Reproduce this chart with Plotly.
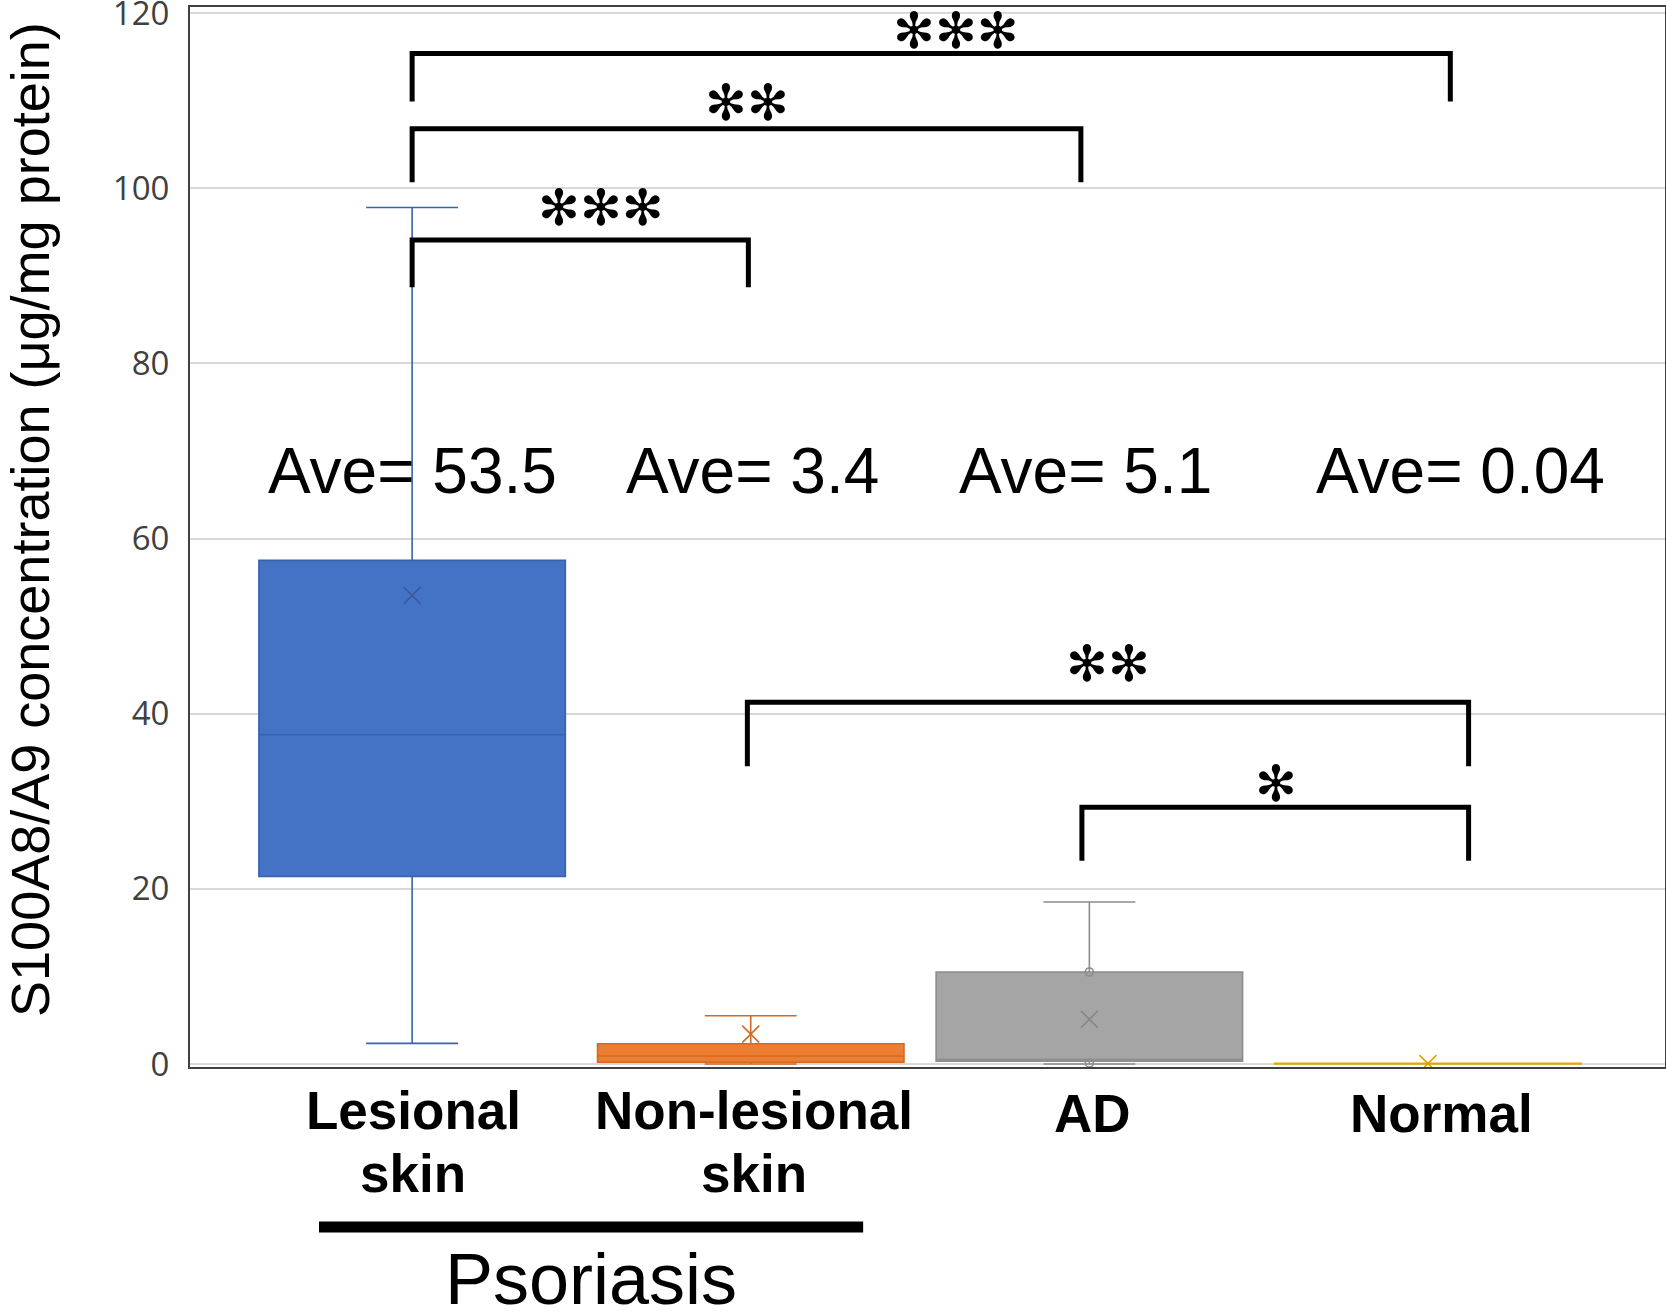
import plotly.graph_objects as go

# ---------------- data ----------------
categories = ["Lesional<br>skin", "Non-lesional<br>skin", "AD", "Normal"]
positions = [0, 1, 2, 3]
q1 = [21.4, 0.2, 0.3, 0.0]
median = [37.6, 0.9, 0.5, 0.03]
q3 = [57.5, 2.3, 10.5, 0.06]
lowerfence = [2.35, 0.0, 0.0, 0.0]
upperfence = [97.8, 5.5, 18.5, 0.08]
means = [53.5, 3.4, 5.1, 0.04]
ave_labels = ["Ave= 53.5", "Ave= 3.4", "Ave= 5.1", "Ave= 0.04"]
ave_x = [0.0, 1.005, 1.99, 3.096]
ad_points = [10.5, 0.1]

fill_colors = ["#4472C4", "#ED7D31", "#A5A5A5", "#FFC000"]
line_colors = ["#3A62AC", "#D46A22", "#8C8C8C", "#E0A800"]
mean_colors = ["#3A5A9A", "#D46A22", "#858585", "#D9A300"]

# significance brackets
br_left = [0, 0, 0, 0.99, 1.978]
br_right = [3.066, 1.975, 0.993, 3.12, 3.12]
br_top = [115.4, 106.8, 94.1, 41.3, 29.3]
br_bottom = [109.9, 100.7, 88.7, 34.0, 23.2]
br_labels = ["✻✻✻", "✻✻", "✻✻✻", "✻✻", "✻"]
br_label_x = [1.607, 0.99, 0.558, 2.056, 2.55]
br_label_y = [118.0, 109.7, 97.8, 45.7, 32.0]

y_ticks = [0, 20, 40, 60, 80, 100, 120]
label_x = [0.003, 1.01, 2.01, 3.04]

fig = go.Figure()

for i in range(4):
    fig.add_trace(go.Box(
        x=[positions[i]], q1=[q1[i]], median=[median[i]], q3=[q3[i]],
        lowerfence=[lowerfence[i]], upperfence=[upperfence[i]],
        width=0.905, whiskerwidth=0.3,
        fillcolor=fill_colors[i],
        line=dict(color=line_colors[i], width=1.6),
        boxpoints=False, showlegend=False, hoverinfo="skip",
    ))

# mean markers
fig.add_trace(go.Scatter(
    x=positions, y=means, mode="markers", showlegend=False, hoverinfo="skip",
    marker=dict(symbol="x-thin-open", size=17, color=mean_colors,
                line=dict(color=mean_colors, width=1.6)),
))
# AD inner points
fig.add_trace(go.Scatter(
    x=[positions[2]] * len(ad_points), y=ad_points, mode="markers", showlegend=False,
    hoverinfo="skip",
    marker=dict(symbol="circle-open", size=8, color="#8C8C8C",
                line=dict(color="#8C8C8C", width=1.6)),
))

shapes = []
annotations = []
for i in range(len(br_left)):
    shapes.append(dict(
        type="path", xref="x", yref="y",
        path=f"M {br_left[i]},{br_bottom[i]} L {br_left[i]},{br_top[i]} "
             f"L {br_right[i]},{br_top[i]} L {br_right[i]},{br_bottom[i]}",
        line=dict(color="black", width=5),
    ))
    annotations.append(dict(
        x=br_label_x[i], y=br_label_y[i], xref="x", yref="y",
        text=br_labels[i], showarrow=False, xanchor="center", yanchor="middle",
        font=dict(family="DejaVu Sans", size=50, color="black"),
    ))

for i in range(4):
    annotations.append(dict(
        x=ave_x[i], y=67.7, xref="x", yref="y", text=ave_labels[i],
        showarrow=False, xanchor="center", yanchor="middle",
        font=dict(family="Liberation Sans, Arial", size=64, color="black"),
    ))

# category labels
line_y = [-0.0406, -0.1009]
for i, lab in enumerate(categories):
    parts = lab.split("<br>")
    for j, p in enumerate(parts):
        yy = line_y[j] if len(parts) > 1 else -0.0434
        annotations.append(dict(
            x=label_x[i], y=yy, xref="x", yref="paper", text=f"<b>{p}</b>",
            showarrow=False, xanchor="center", yanchor="middle",
            font=dict(family="Liberation Sans, Arial", size=53, color="black"),
        ))

# Psoriasis group bar and label
shapes.append(dict(type="line", xref="x", yref="paper", x0=-0.275, x1=1.332,
                   y0=-0.151, y1=-0.151, line=dict(color="black", width=11)))
annotations.append(dict(x=0.528, y=-0.2, xref="x", yref="paper", text="Psoriasis",
                        showarrow=False, xanchor="center", yanchor="middle",
                        font=dict(family="Liberation Sans, Arial", size=72, color="black")))

# y-axis title
annotations.append(dict(x=-0.1085, y=0.517, xref="paper", yref="paper",
                        text="S100A8/A9 concentration (μg/mg protein)", textangle=-90,
                        showarrow=False, xanchor="center", yanchor="middle",
                        font=dict(family="Liberation Sans, Arial", size=54, color="black")))

fig.update_layout(
    width=1666, height=1311,
    margin=dict(l=190, r=1, t=7, b=244, pad=0, autoexpand=False),
    plot_bgcolor="white", paper_bgcolor="white",
    shapes=shapes, annotations=annotations, showlegend=False,
    xaxis=dict(range=[-0.656, 3.70], showticklabels=False, showgrid=False, zeroline=False,
               showline=True, mirror=True, linecolor="#404040", linewidth=2, ticks="",
               automargin=False),
    yaxis=dict(range=[-0.35, 120.7], tickvals=y_ticks, showgrid=True, gridcolor="#D9D9D9",
               gridwidth=2, zeroline=False, showline=True, mirror=True, linecolor="#404040",
               linewidth=2, ticks="", ticklabelstandoff=12, ticklabeloverflow="allow",
               automargin=False,
               tickfont=dict(family="Open Sans, Segoe UI, sans-serif", size=33, color="#404040")),
)

fig.write_html("out.html")
